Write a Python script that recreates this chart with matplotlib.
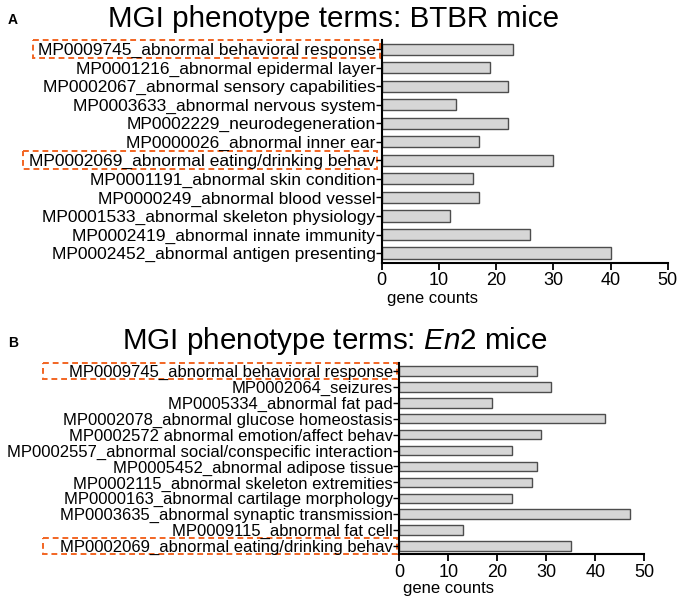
import matplotlib
matplotlib.use('Agg')
import matplotlib.pyplot as plt
from matplotlib.patches import Rectangle
from matplotlib.transforms import blended_transform_factory

plt.rcParams['font.family'] = ['Liberation Sans', 'DejaVu Sans']
plt.rcParams['mathtext.fontset'] = 'custom'
plt.rcParams['mathtext.it'] = 'Liberation Sans:italic'
plt.rcParams['mathtext.rm'] = 'Liberation Sans'

btbr_terms = [
    "MP0009745_abnormal behavioral response",
    "MP0001216_abnormal epidermal layer",
    "MP0002067_abnormal sensory capabilities",
    "MP0003633_abnormal nervous system",
    "MP0002229_neurodegeneration",
    "MP0000026_abnormal inner ear",
    "MP0002069_abnormal eating/drinking behav",
    "MP0001191_abnormal skin condition",
    "MP0000249_abnormal blood vessel",
    "MP0001533_abnormal skeleton physiology",
    "MP0002419_abnormal innate immunity",
    "MP0002452_abnormal antigen presenting",
]
btbr_counts = [23, 19, 22, 13, 22, 17, 30, 16, 17, 12, 26, 40]

en2_terms = [
    "MP0009745_abnormal behavioral response",
    "MP0002064_seizures",
    "MP0005334_abnormal fat pad",
    "MP0002078_abnormal glucose homeostasis",
    "MP0002572 abnormal emotion/affect behav",
    "MP0002557_abnormal social/conspecific interaction",
    "MP0005452_abnormal adipose tissue",
    "MP0002115_abnormal skeleton extremities",
    "MP0000163_abnormal cartilage morphology",
    "MP0003635_abnormal synaptic transmission",
    "MP0009115_abnormal fat cell",
    "MP0002069_abnormal eating/drinking behav",
]
en2_counts = [28, 31, 19, 42, 29, 23, 28, 27, 23, 47, 13, 35]

# highlighted rows: (row index, left edge px, right edge px)
btbr_boxes = [(0, 33, 380), (6, 23, 377)]
en2_boxes = [(0, 43, 397), (11, 43, 397)]

W, H = 680, 600
fig = plt.figure(figsize=(W / 100, H / 100), dpi=100)


def panel(rect, terms, counts, ylim, boxes, label_size):
    ax = fig.add_axes(rect)
    y = list(range(len(terms)))
    ax.barh(y, counts, height=0.6, color='#d6d6d6', edgecolor='#4d4d4d',
            linewidth=1.0)
    ax.set_yticks(y)
    ax.set_yticklabels(terms, fontsize=label_size)
    ax.set_ylim(*ylim)
    ax.set_xlim(0, 50)
    ax.set_xticks([0, 10, 20, 30, 40, 50])
    ax.tick_params(axis='x', labelsize=13, length=5, width=1.3, pad=2)
    ax.tick_params(axis='y', length=4, width=1.0, pad=0.5)
    for s in ['top', 'right']:
        ax.spines[s].set_visible(False)
    for s in ['left', 'bottom']:
        ax.spines[s].set_linewidth(1.5)
    ax.set_xlabel('gene counts', fontsize=12, loc='left')
    tr = blended_transform_factory(fig.transFigure, ax.transData)
    for row, x0, x1 in boxes:
        r = Rectangle((x0 / W, row - 0.48), (x1 - x0) / W, 0.96, transform=tr,
                      fill=False, edgecolor='#f26522', linewidth=1.4,
                      linestyle=(0, (3, 2)), clip_on=False)
        ax.add_patch(r)
    return ax


axA = panel([381.7 / W, 1 - 262.7 / H, 286 / W, 222.7 / H],
            btbr_terms, btbr_counts, (11.52, -0.49), btbr_boxes, 12.5)
axA.xaxis.set_label_coords(0.02, -0.125)
axB = panel([399.3 / W, 1 - 554 / H, 245 / W, 191 / H],
            en2_terms, en2_counts, (11.5, -0.5), en2_boxes, 12)
axB.xaxis.set_label_coords(0.016, -0.14)

fig.text(108 / W, 1 - 27 / H, 'MGI phenotype terms: BTBR mice', fontsize=21.3,
         ha='left', va='baseline')
fig.text(122 / W, 1 - 349 / H, r'MGI phenotype terms: $\mathit{En2}$ mice',
         fontsize=21.3, ha='left', va='baseline')
fig.text(8 / W, 1 - 24 / H, 'A', fontsize=10, fontweight='bold', va='baseline')
fig.text(8 / W, 1 - 347 / H, 'B', fontsize=10, fontweight='bold', va='baseline')

fig.savefig('out.png', dpi=100)
